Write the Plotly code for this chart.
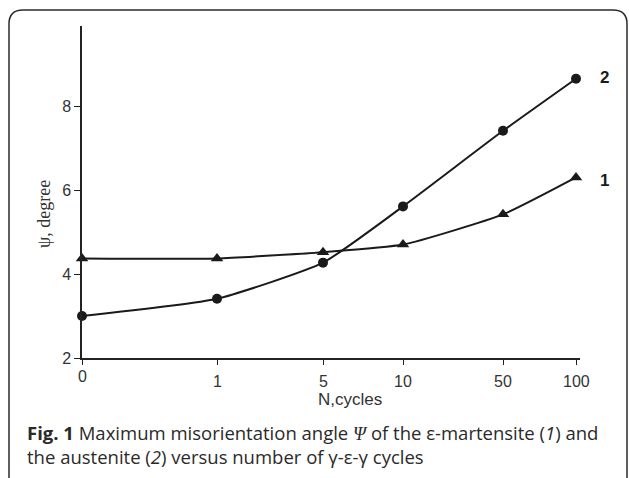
import plotly.graph_objects as go

# ---- data ----
cycles = ["0", "1", "5", "10", "50", "100"]
psi_martensite = [4.37, 4.37, 4.52, 4.70, 5.42, 6.30]   # curve 1 (triangles)
psi_austenite = [3.00, 3.41, 4.27, 5.61, 7.41, 8.65]     # curve 2 (circles)
y_ticks = [2, 4, 6, 8]

# ---- axis layout (non-uniform x scale of the original figure) ----
x_tick_pos = [0, 135, 241, 321, 421, 494]

W, H = 629, 478
L, R, T, B = 82, 49, 26, 120
PW, PH = W - L - R, H - T - B
Y0 = 2
Y1 = 2 + PH / 42.0


def px(xp):
    return (xp - L) / PW


def py(yp):
    return (H - B - yp) / PH


line_col = "#1a1a1a"
fig = go.Figure()
fig.add_trace(go.Scatter(
    x=x_tick_pos, y=psi_austenite, mode="lines+markers",
    line=dict(color=line_col, width=2, shape="spline", smoothing=0.5),
    marker=dict(symbol="circle", size=10, color=line_col),
    cliponaxis=False, showlegend=False))
fig.add_trace(go.Scatter(
    x=x_tick_pos, y=psi_martensite, mode="lines+markers",
    line=dict(color=line_col, width=2, shape="spline", smoothing=0.5),
    marker=dict(symbol="triangle-up", size=11, color=line_col),
    cliponaxis=False, showlegend=False))

fig.update_xaxes(range=[0, PW], showline=True, linecolor="#222", linewidth=1.5,
                 ticks="outside", ticklen=5, tickwidth=1, tickcolor="#222",
                 tickvals=x_tick_pos, showticklabels=False,
                 showgrid=False, zeroline=False, fixedrange=True)
fig.update_yaxes(range=[Y0, Y1], showline=True, linecolor="#222", linewidth=1.5,
                 ticks="outside", ticklen=6, tickwidth=1, tickcolor="#222",
                 tickvals=y_ticks, ticktext=[str(v) for v in y_ticks],
                 tickfont=dict(family="Liberation Sans, Arial", size=16, color="#333"),
                 showgrid=False, zeroline=False, fixedrange=True)

ann = []
# x tick labels (the "0" sits higher in the original)
for lab, xp in zip(cycles, x_tick_pos):
    ann.append(dict(x=xp / PW, y=py(376 if lab == "0" else 381.5), xref="paper", yref="paper",
                    text=lab, showarrow=False, xanchor="center", yanchor="middle",
                    font=dict(family="Liberation Sans, Arial", size=16, color="#333")))
# axis titles
ann.append(dict(x=px(350), y=py(399), xref="paper", yref="paper", text="N,cycles",
                showarrow=False, xanchor="center", yanchor="middle",
                font=dict(family="Liberation Sans, Arial", size=17, color="#333")))
ann.append(dict(x=px(44), y=py(214), xref="paper", yref="paper", text="ψ, degree",
                showarrow=False, xanchor="center", yanchor="middle", textangle=-90,
                font=dict(family="Liberation Serif, Times New Roman", size=18, color="#333")))
# curve labels
ann.append(dict(x=px(604), y=py(78), xref="paper", yref="paper", text="<b>2</b>",
                showarrow=False, xanchor="center", yanchor="middle",
                font=dict(family="Liberation Sans, Arial", size=17, color="#1a1a1a")))
ann.append(dict(x=px(604), y=py(180), xref="paper", yref="paper", text="<b>1</b>",
                showarrow=False, xanchor="center", yanchor="middle",
                font=dict(family="Liberation Sans, Arial", size=17, color="#1a1a1a")))
# caption
cap_font = dict(family="Open Sans", size=18.5, color="#2a2a2a")
ann.append(dict(x=px(25), y=py(432), xref="paper", yref="paper",
                text="<b>Fig. 1</b> Maximum misorientation angle "
                     "<i><span style='font-family:Liberation Serif'>Ψ</span></i> "
                     "of the ε-martensite (<i>1</i>) and",
                showarrow=False, xanchor="left", yanchor="middle", font=cap_font))
ann.append(dict(x=px(25), y=py(456), xref="paper", yref="paper",
                text="the austenite (<i>2</i>) versus number of γ-ε-γ cycles",
                showarrow=False, xanchor="left", yanchor="middle", font=cap_font))

# rounded outer frame
x0, x1, yt, yb, r = 9, 627, 10, 492, 14
path = (f"M {px(x0)},{py(yt + r)} "
        f"Q {px(x0)},{py(yt)} {px(x0 + r)},{py(yt)} "
        f"L {px(x1 - r)},{py(yt)} "
        f"Q {px(x1)},{py(yt)} {px(x1)},{py(yt + r)} "
        f"L {px(x1)},{py(yb - r)} "
        f"Q {px(x1)},{py(yb)} {px(x1 - r)},{py(yb)} "
        f"L {px(x0 + r)},{py(yb)} "
        f"Q {px(x0)},{py(yb)} {px(x0)},{py(yb - r)} Z")
shapes = [dict(type="path", xref="paper", yref="paper", path=path,
               line=dict(color="#2a2a2a", width=1.5), fillcolor="rgba(0,0,0,0)", layer="below")]

fig.update_layout(width=W, height=H, margin=dict(l=L, r=R, t=T, b=B, pad=0),
                  paper_bgcolor="white", plot_bgcolor="white",
                  annotations=ann, shapes=shapes, showlegend=False)

fig.write_html("out.html", config={"displayModeBar": False},
               post_script="document.body.style.margin='0px';document.body.style.overflow='hidden';")
